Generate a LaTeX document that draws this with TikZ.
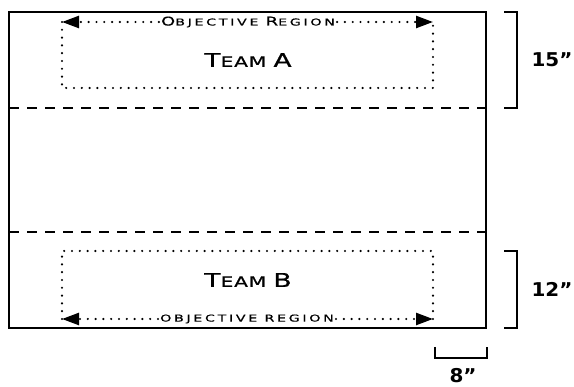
\documentclass[tikz,border=0pt]{standalone}
\usepackage{fontspec}
\setmainfont{DejaVu Sans}
\newfontfamily\teamfont[LetterSpace=5,FakeStretch=1.4,FakeBold=0.8]{DejaVu Sans}
\newfontfamily\regionfont[LetterSpace=28,FakeStretch=1.5,FakeBold=0.6]{DejaVu Sans}
\newfontfamily\sizefont[FakeStretch=1.05]{DejaVu Sans}
\usetikzlibrary{arrows.meta}
\newcommand{\tallcap}[2]{{\fontsize{#1}{#1}\selectfont #2}}
\tikzset{
  field/.style={line width=2.8pt},
  midline/.style={line width=2.1pt, dash pattern=on 10pt off 8pt},
  zoneline/.style={line width=2.4pt, line cap=round, dash pattern=on 0pt off 7.8pt},
  zonearrow/.style={zoneline, -{Triangle[length=17pt,width=12pt]}},
  measure/.style={line width=2.3pt},
  teamlabel/.style={font=\teamfont\fontsize{14.5}{14.5}\selectfont, inner sep=0pt},
  regionlabel/.style={font=\regionfont\fontsize{9.5}{9.5}\selectfont, inner sep=2pt},
  sizelabel/.style={font=\sizefont\bfseries\fontsize{19}{19}\selectfont, inner sep=0pt}
}
\begin{document}
\begin{tikzpicture}[x=1pt,y=-1pt]
  \useasboundingbox (0,0) rectangle (574,387);
  % playing field
  \draw[field] (9,12) rectangle (486,328);
  \draw[midline] (9,108) -- (486,108);
  \draw[midline] (9,232) -- (486,232);

  % team A zone
  \coordinate (aTL) at (62,22);
  \coordinate (aTR) at (433,22);
  \coordinate (aBL) at (62,88);
  \coordinate (aBR) at (433,88);
  \node[regionlabel] (objA) at (248,22) {\tallcap{12}{O}BJECTIVE \tallcap{12}{R}EGION};
  \node[teamlabel] (teamA) at (248,60) {\tallcap{19}{T}EAM \tallcap{19}{A}};
  \draw[zoneline] (aTL) -- (aBL) -- (aBR) -- (aTR);
  \draw[zonearrow] (objA.west) -- (aTL);
  \draw[zonearrow] (objA.east) -- (aTR);

  % team B zone
  \coordinate (bTL) at (62,251);
  \coordinate (bTR) at (433,251);
  \coordinate (bBL) at (62,319);
  \coordinate (bBR) at (433,319);
  \node[regionlabel] (objB) at (247,319) {OBJECTIVE REGION};
  \node[teamlabel] (teamB) at (248,280) {\tallcap{19}{T}EAM \tallcap{19}{B}};
  \draw[zoneline] (bBL) -- (bTL) -- (bTR) -- (bBR);
  \draw[zonearrow] (objB.west) -- (bBL);
  \draw[zonearrow] (objB.east) -- (bBR);

  % measures
  \draw[measure] (504,12) -- (517,12) -- (517,108) -- (504,108);
  \node[sizelabel] (depthA) at (552,60) {15”};
  \draw[measure] (504,251) -- (517,251) -- (517,328) -- (504,328);
  \node[sizelabel] (depthB) at (552,289) {12”};
  \draw[measure] (435,347) -- (435,358) -- (487,358) -- (487,347);
  \node[sizelabel] (gap) at (463,376) {8”};
\end{tikzpicture}
\end{document}
